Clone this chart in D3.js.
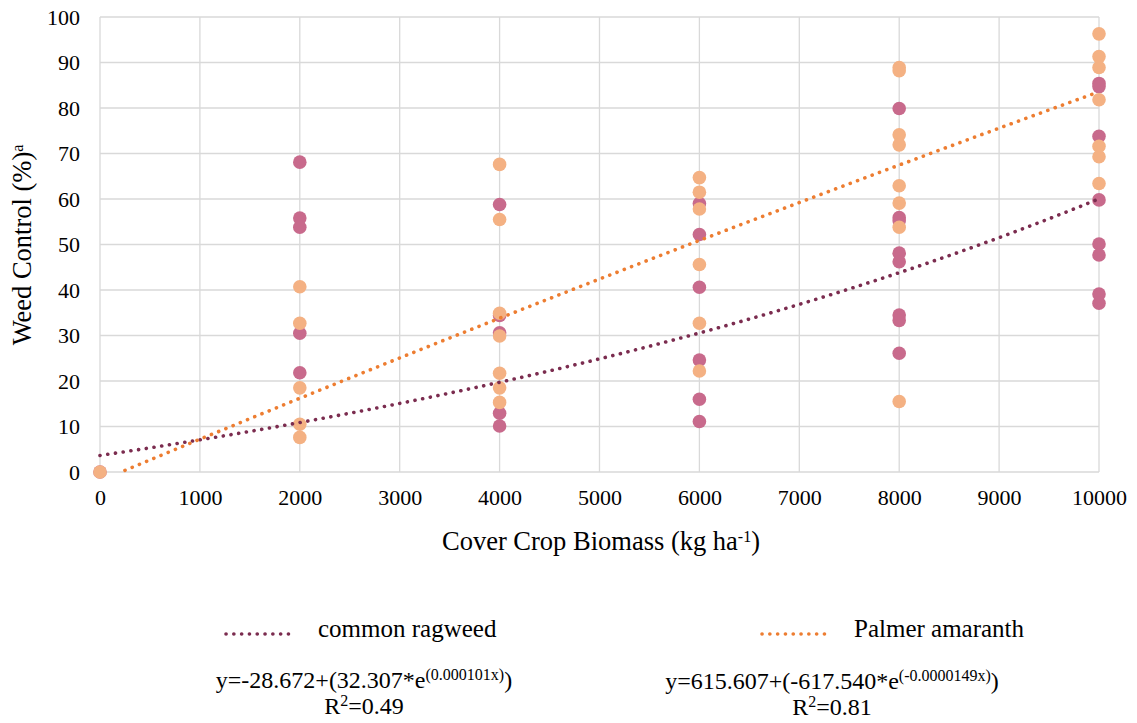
<!DOCTYPE html>
<meta charset="utf-8">
<script src="https://cdn.jsdelivr.net/npm/d3@7"></script>
<svg width="1137" height="723"></svg>
<script>

// x values (kg/ha) and weed control (%)
var ragweedX = [0, 2000,2000,2000,2000,2000, 4000,4000,4000,4000,4000,
  6000,6000,6000,6000,6000,6000, 8000,8000,8000,8000,8000,8000,8000,8000,
  10000,10000,10000,10000,10000,10000,10000,10000];
var ragweedY = [0, 68.1,55.8,53.8,30.5,21.8, 58.8,34.4,30.6,12.9,10.1,
  59.0,52.2,40.6,24.6,16.0,11.1, 79.9,55.9,55.2,48.1,46.2,34.5,33.3,26.1,
  85.4,84.7,73.8,59.8,50.1,47.7,39.1,37.1];

var palmerX = [0, 2000,2000,2000,2000,2000, 4000,4000,4000,4000,4000,4000,4000,
  6000,6000,6000,6000,6000,6000, 8000,8000,8000,8000,8000,8000,8000,8000,
  10000,10000,10000,10000,10000,10000,10000];
var palmerY = [0, 40.7,32.7,18.5,10.5,7.6, 67.6,55.5,34.9,29.9,21.7,18.5,15.3,
  64.7,61.5,57.8,45.6,32.7,22.2, 88.9,88.2,74.1,71.9,62.9,59.1,53.8,15.5,
  96.3,91.3,88.9,81.8,71.6,69.3,63.4];

// fitted curves y = a + b*e^(c*x), coefficients as printed on the chart
var ragweedFit = [-28.672, 32.307, 0.000101];
var palmerFit = [615.607, -617.540, -0.0000149];

var xTicks = [0,1000,2000,3000,4000,5000,6000,7000,8000,9000,10000];
var yTicks = [0,10,20,30,40,50,60,70,80,90,100];

var FONT = "'Liberation Serif'";
d3.select("body").style("margin", "0px");
var svg = d3.select("svg");
var x = d3.scaleLinear().domain([0, 10000]).range([100, 1099]);
var y = d3.scaleLinear().domain([0, 100]).range([472, 17]);

// grid
var grid = svg.append("g").attr("stroke", "#d9d9d9").attr("stroke-width", 1.3);
grid.selectAll(".h").data(yTicks).enter().append("line")
    .attr("x1", x(0)).attr("x2", x(10000))
    .attr("y1", d => y(d)).attr("y2", d => y(d));
grid.selectAll(".v").data(xTicks).enter().append("line")
    .attr("y1", y(0)).attr("y2", y(100))
    .attr("x1", d => x(d)).attr("x2", d => x(d));

var gx = svg.append("g")
    .attr("transform", "translate(0," + y(0) + ")")
    .call(d3.axisBottom(x).tickValues(xTicks).tickFormat(d3.format("d")).tickSize(0).tickPadding(17));
var gy = svg.append("g")
    .attr("transform", "translate(" + (x(0) - 20) + ",0)")
    .call(d3.axisLeft(y).tickValues(yTicks).tickSize(0).tickPadding(0));
[gx, gy].forEach(function(g) {
  g.select(".domain").remove();
  g.selectAll("text").attr("font-size", 22).attr("fill", "#000");
});

// axis titles
var xt = svg.append("text").attr("x", 601).attr("y", 550)
    .attr("text-anchor", "middle").attr("font-size", 26.5)
    .text("Cover Crop Biomass (kg ha");
xt.append("tspan").attr("baseline-shift", "super").attr("font-size", 16).text("-1");
xt.append("tspan").text(")");

var yt = svg.append("text").attr("transform", "translate(31,245) rotate(-90)")
    .attr("text-anchor", "middle").attr("font-size", 26.5)
    .text("Weed Control (%)");
yt.append("tspan").attr("baseline-shift", "super").attr("font-size", 16).text("a");

// points
var pink = "#c86a8c", peach = "#f4b183";
svg.append("g").selectAll("circle").data(ragweedX).enter().append("circle")
    .attr("cx", d => x(d)).attr("cy", (d, i) => y(ragweedY[i]))
    .attr("r", 6.8).attr("fill", pink);
svg.append("g").selectAll("circle").data(palmerX).enter().append("circle")
    .attr("cx", d => x(d)).attr("cy", (d, i) => y(palmerY[i]))
    .attr("r", 6.8).attr("fill", peach);

// trend lines
function curve(fit) {
  var pts = [];
  for (var v = 0; v <= 10000; v += 50) {
    var val = fit[0] + fit[1] * Math.exp(fit[2] * v);
    if (val >= 0) pts.push([v, val]);
  }
  return pts;
}
var line = d3.line().x(d => x(d[0])).y(d => y(d[1]));
var dotted = function(sel, col) {
  sel.attr("fill", "none").attr("stroke", col).attr("stroke-width", 3.6)
     .attr("stroke-linecap", "round").attr("stroke-dasharray", "0.1 7.7");
};
svg.append("path").datum(curve(ragweedFit)).attr("d", line).call(dotted, "#7b2c4f");
svg.append("path").datum(curve(palmerFit)).attr("d", line).call(dotted, "#ed7d31");

// legend
function legendItem(x0, ly, col, label) {
  svg.append("line").attr("x1", x0).attr("x2", x0 + 68).attr("y1", ly).attr("y2", ly).call(dotted, col);
  svg.append("text").attr("x", x0 + 92).attr("y", ly + 3).attr("font-size", 25).text(label);
}
legendItem(226, 634, "#7b2c4f", "common ragweed");
legendItem(762, 634, "#ed7d31", "Palmer amaranth");

function equation(cx, ey, pre, exp, r2) {
  var t = svg.append("text").attr("x", cx).attr("y", ey).attr("text-anchor", "middle").attr("font-size", 24);
  t.append("tspan").text(pre);
  t.append("tspan").attr("baseline-shift", "super").attr("font-size", 16).text(exp);
  t.append("tspan").attr("baseline-shift", "0").text(")");
  var r = svg.append("text").attr("x", cx).attr("y", ey + 26).attr("text-anchor", "middle").attr("font-size", 24);
  r.append("tspan").text("R");
  r.append("tspan").attr("baseline-shift", "super").attr("font-size", 16).text("2");
  r.append("tspan").attr("baseline-shift", "0").text("=" + r2);
}
equation(364, 688, "y=-28.672+(32.307*e", "(0.000101x)", "0.49");
equation(832, 689, "y=615.607+(-617.540*e", "(-0.0000149x)", "0.81");

// serif face set on every text node directly
svg.selectAll("text").attr("font-family", FONT);
svg.selectAll("g").attr("font-family", null);
</script>
